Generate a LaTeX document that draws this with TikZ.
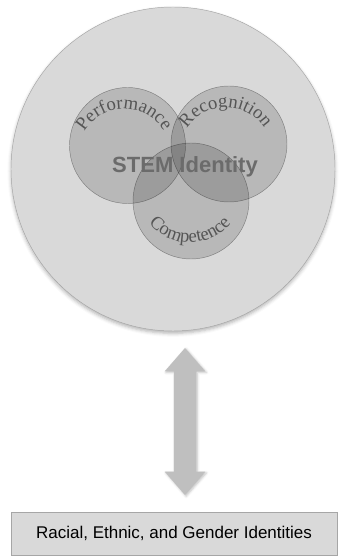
\documentclass[tikz,border=0pt]{standalone}
\usepackage{fontspec}
\setmainfont{Liberation Serif}
\setsansfont{Liberation Sans}
\usetikzlibrary{shapes.arrows,decorations.text,shadows.blur}

\definecolor{hellgrau}{HTML}{D9D9D9}
\definecolor{randgrau}{HTML}{A6A6A6}
\definecolor{textgrau}{HTML}{555555}
\definecolor{pfeilgrau}{HTML}{BFBFBF}
\newcommand{\bogenfont}{\fontsize{16}{17}\selectfont\color{textgrau}}

\begin{document}
\begin{tikzpicture}[
      ring/.style={circle, draw=black, draw opacity=0.35, fill=black, fill opacity=0.15, inner sep=0pt, minimum size=3.48cm},
      bogen/.style={decorate, decoration={text along path, text align=center, text={|\bogenfont|#1}}},
      doppel/.style={double arrow, rotate=90, fill=pfeilgrau, inner xsep=0pt, inner ysep=0.33cm, minimum height=4.41cm, minimum width=1.2cm, double arrow head extend=0.27cm, double arrow tip angle=82, blur shadow={shadow xshift=1pt, shadow yshift=-1pt, shadow blur radius=2pt, shadow opacity=25}},
      kasten/.style={rectangle, draw=randgrau, fill=hellgrau, minimum width=9.78cm, minimum height=1.29cm, font=\sffamily\fontsize{14.5}{16}\selectfont}]

\useasboundingbox (0,0) rectangle (10.2,16.68);

% outer circle and the three facets
\node[circle, draw=randgrau, fill=hellgrau, minimum size=9.72cm, inner sep=0pt, blur shadow={shadow xshift=0pt, shadow yshift=-2pt, shadow blur radius=3pt, shadow opacity=30}] (stem) at (5.19,11.61) {};
\node[ring] (perf) at (3.825,12.315) {};
\node[ring] (recog) at (6.87,12.36) {};
\node[ring] (comp) at (5.73,10.65) {};

\node[font=\sffamily\bfseries\fontsize{18.8}{20}\selectfont, text=black!58] (ident) at (5.55,11.67) {STEM Identity};

% curved labels (arch up / arch down)
\path[bogen=Performance] ([shift={(170:1.38)}]perf.center) ++(-0.1,-0.28) arc[start angle=170, end angle=10, radius=1.38];
\path[bogen=Recognition] ([shift={(170:1.38)}]recog.center) ++(-0.1,-0.28) arc[start angle=170, end angle=10, radius=1.38];
\path[bogen=Competence] ([shift={(205:1.6)}]comp.center) ++(-0.03,0.36) arc[start angle=205, end angle=335, radius=1.6];

\node[doppel] (pfeil) at (5.55,4.035) {};
\node[kasten] (herkunft) at (5.22,0.675) {Racial, Ethnic, and Gender Identities};

\end{tikzpicture}
\end{document}
